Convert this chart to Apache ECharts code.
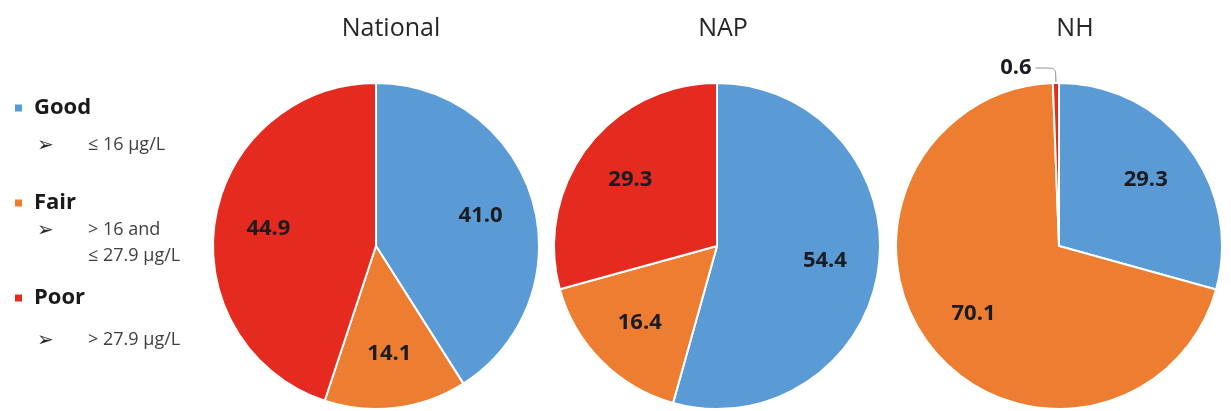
<!DOCTYPE html>
<html>
<head>
<meta charset="utf-8">
<script src="https://cdn.jsdelivr.net/npm/echarts@6/dist/echarts.min.js"></script>
<style>
  html, body { margin: 0; padding: 0; background: #fff; }
  #chart { width: 1231px; height: 411px; }
</style>
</head>
<body>
<div id="chart"></div>
<script>
// Share of results by category (%), one pie per region
const categories = ['Good', 'Fair', 'Poor'];
const regions = ['National', 'NAP', 'NH'];
const nationalValues = [41.0, 14.1, 44.9];
const napValues = [54.4, 16.4, 29.3];
const nhValues = [29.3, 70.1, 0.6];
// Threshold notes shown under each legend entry
const thresholdNotes = [['≤ 16 μg/L'], ['> 16 and', '≤ 27.9 μg/L'], ['> 27.9 μg/L']];

const colors = ['#5B9BD5', '#ED7D31', '#E52B1F'];
const FONT = '"Open Sans", "Noto Sans", sans-serif';
const pieCenters = [[376, 246], [717, 246], [1059, 246]];
const titleX = [386, 718, 1070];
const R = 163;
const SMALL = 1; // slices below this share get an outside label with a leader line

const valueSets = [nationalValues, napValues, nhValues];

const labelText = {
  fontFamily: FONT, fontWeight: 'bold', fontSize: 22, color: '#1b1b22'
};

const series = [];
valueSets.forEach((vals, i) => {
  // coloured slices; only tiny slices carry an outside label
  series.push({
    type: 'pie',
    center: pieCenters[i],
    radius: R,
    startAngle: 90,
    clockwise: true,
    avoidLabelOverlap: false,
    itemStyle: { borderColor: '#fff', borderWidth: 2 },
    emphasis: { disabled: true },
    data: vals.map((v, k) => ({
      name: categories[k],
      value: v,
      itemStyle: { color: colors[k] },
      label: v < SMALL ? {
        show: true, position: 'outside',
        formatter: p => p.value.toFixed(1),
        ...labelText, distanceToLabelLine: 4
      } : { show: false },
      labelLine: v < SMALL ? {
        show: true, length: 15, length2: 20, smooth: 0.2,
        lineStyle: { color: '#8a8a8a', width: 1 }
      } : { show: false }
    }))
  });
  // label ring: transparent slices whose midpoint puts values inside the pie
  series.push({
    type: 'pie',
    center: pieCenters[i],
    radius: [R * 0.3, R],
    startAngle: 90,
    clockwise: true,
    silent: true,
    avoidLabelOverlap: false,
    emphasis: { disabled: true },
    itemStyle: { color: 'rgba(0,0,0,0)', borderWidth: 0 },
    labelLine: { show: false },
    data: vals.map((v, k) => ({
      name: categories[k],
      value: v,
      label: {
        show: v >= SMALL, position: 'inside',
        formatter: p => p.value.toFixed(1),
        ...labelText
      }
    }))
  });
});

// threshold notes under the legend entries
const noteRows = [[148], [233, 259], [343]];
const graphics = [];
thresholdNotes.forEach((lines, k) => {
  graphics.push({
    type: 'text', left: 37, top: noteRows[k][0] - 12,
    style: { text: '➢', font: '20px "DejaVu Sans"', fill: '#2a2a2a' }
  });
  lines.forEach((t, j) => {
    graphics.push({
      type: 'text', left: 88, top: noteRows[k][j] - 12,
      style: { text: t, font: '18px ' + FONT, fill: '#404040' }
    });
  });
});

const option = {
  backgroundColor: '#fff',
  animation: false,
  color: colors,
  title: regions.map((r, i) => ({
    text: r, left: titleX[i], top: 11, textAlign: 'center',
    textStyle: { fontFamily: FONT, fontWeight: 'normal', fontSize: 25, color: '#262626' }
  })),
  legend: {
    data: categories,
    orient: 'vertical',
    left: 13, top: 97,
    padding: 0,
    icon: 'rect',
    itemWidth: 9, itemHeight: 9,
    itemGap: 73,
    selectedMode: false,
    textStyle: {
      fontFamily: FONT, fontWeight: 'bold', fontSize: 22, color: '#1a1a1a',
      lineHeight: 21, padding: [0, 0, 0, 6]
    }
  },
  graphic: graphics,
  series: series
};

const chart = echarts.init(document.getElementById('chart'), null, { renderer: 'canvas' });
chart.setOption(option);
</script>
</body>
</html>
